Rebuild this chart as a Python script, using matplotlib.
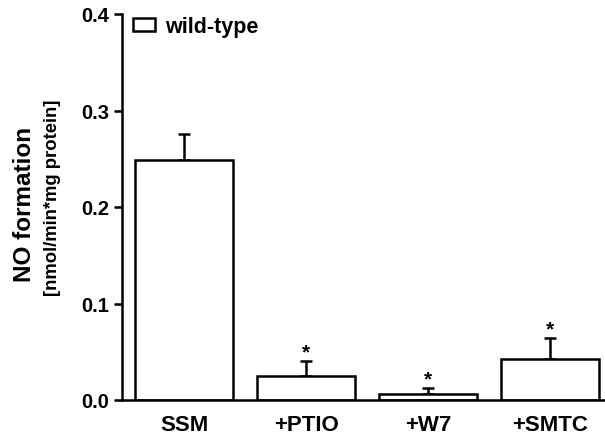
import numpy as np
import matplotlib
matplotlib.use("Agg")
import matplotlib.pyplot as plt

# data
groups = ["SSM", "+PTIO", "+W7", "+SMTC"]
no_formation = [0.249, 0.025, 0.006, 0.042]
sem = [0.027, 0.015, 0.006, 0.022]
significant = [False, True, True, True]

plt.rcParams['font.family'] = ['Liberation Sans', 'DejaVu Sans']
plt.rcParams['font.weight'] = 'bold'

fig = plt.figure(figsize=(6.05, 4.35), dpi=100)
ax = fig.add_axes([122 / 605, 34 / 435, 483 / 605, 386 / 435])

x = np.arange(len(groups))
bars = ax.bar(x, no_formation, width=0.8, color='white', edgecolor='black',
              linewidth=1.8, label='wild-type', zorder=2)
ax.errorbar(x, no_formation, yerr=[np.zeros(len(sem)), sem], fmt='none',
            ecolor='black', elinewidth=1.8, capsize=4.5, capthick=1.8, zorder=1)

for xi, v, e, s in zip(x, no_formation, sem, significant):
    if s:
        ax.annotate('*', (xi, v + e), xytext=(0, 0), textcoords='offset points',
                    ha='center', va='bottom', fontsize=15, fontweight='bold')

ax.set_xlim(-0.51, 3.45)
ax.set_ylim(0, 0.4)
ax.set_yticks([0.0, 0.1, 0.2, 0.3, 0.4])
ax.set_yticklabels(['0.0', '0.1', '0.2', '0.3', '0.4'], fontsize=14.5, fontweight='bold')
ax.set_xticks(x)
ax.set_xticklabels(groups, fontsize=16, fontweight='bold')
ax.tick_params(axis='x', length=0, pad=10)
ax.tick_params(axis='y', length=6, width=1.8, pad=3)

for side in ['top', 'right']:
    ax.spines[side].set_visible(False)
for side in ['left', 'bottom']:
    ax.spines[side].set_linewidth(1.8)

fig.text(0.04, 0.531, 'NO formation', rotation=90, ha='center', va='center',
         fontsize=17.5, fontweight='bold')
fig.text(0.086, 0.545, '[nmol/min*mg protein]', rotation=90, ha='center', va='center',
         fontsize=13.3, fontweight='bold')

leg = ax.legend(loc='upper left', bbox_to_anchor=(0.023, 0.995), frameon=False,
                borderpad=0, borderaxespad=0,
                handlelength=1.0, handleheight=0.55, handletextpad=0.5,
                prop={'size': 15.5, 'weight': 'bold'})

fig.savefig('out.png', dpi=100)
